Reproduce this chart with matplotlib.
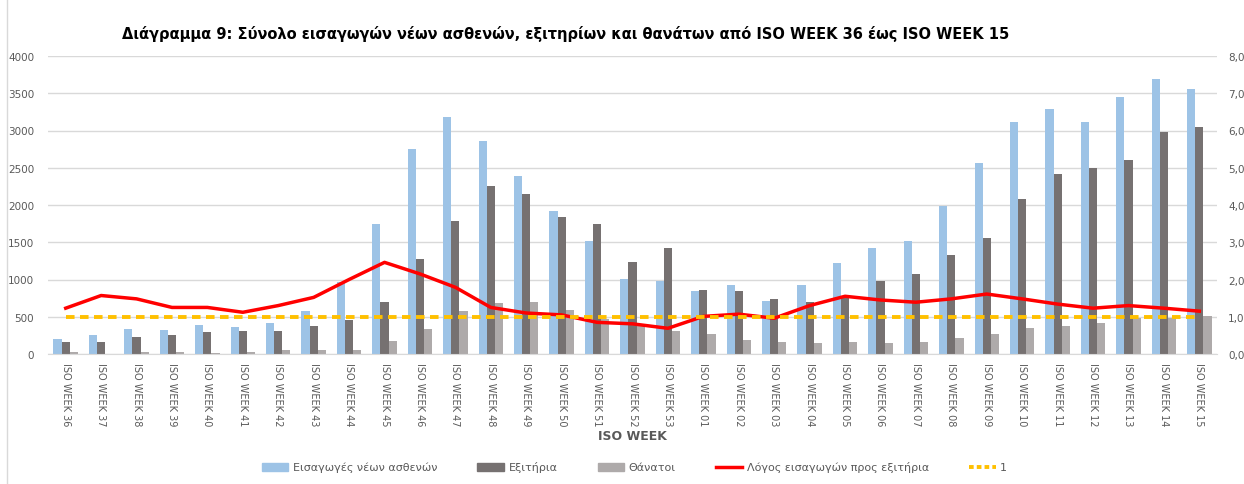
import numpy as np
import matplotlib
matplotlib.use("Agg")
import matplotlib.pyplot as plt
from matplotlib.lines import Line2D

weeks = ["36", "37", "38", "39", "40", "41", "42", "43", "44", "45", "46", "47",
         "48", "49", "50", "51", "52", "53", "01", "02", "03", "04", "05", "06",
         "07", "08", "09", "10", "11", "12", "13", "14", "15"]
week_labels = ["ISO WEEK " + w for w in weeks]

admissions = [202, 255, 336, 322, 390, 363, 412, 582, 966, 1747, 2755, 3180,
              2858, 2392, 1926, 1514, 1008, 985, 847, 923, 712, 927, 1218, 1424,
              1514, 1993, 2566, 3117, 3288, 3117, 3449, 3691, 3556]
discharges = [157, 157, 224, 255, 300, 313, 309, 372, 457, 703, 1277, 1783,
              2257, 2141, 1841, 1742, 1241, 1420, 860, 847, 739, 703, 775, 985,
              1070, 1326, 1559, 2074, 2419, 2490, 2602, 2983, 3041]
deaths = [22, 5, 27, 27, 18, 27, 54, 54, 54, 179, 336, 578,
          681, 694, 591, 470, 403, 309, 273, 188, 161, 152, 166, 143,
          166, 215, 264, 345, 372, 417, 488, 488, 515]
ratio = [1.23, 1.57, 1.48, 1.25, 1.25, 1.12, 1.30, 1.52, 2.00, 2.46, 2.15, 1.79,
         1.25, 1.10, 1.05, 0.85, 0.81, 0.69, 1.01, 1.07, 0.96, 1.30, 1.55, 1.45,
         1.39, 1.48, 1.61, 1.48, 1.34, 1.23, 1.30, 1.23, 1.15]
reference = [1.0] * len(weeks)

c_adm = "#9DC3E6"
c_dis = "#767171"
c_dea = "#AEAAAA"
c_txt = "#595959"

fig = plt.figure(figsize=(12.44, 4.85), dpi=100)
ax = fig.add_axes([48 / 1244, 1 - 355 / 485, (1217 - 48) / 1244, (355 - 57) / 485])
ax2 = ax.twinx()

x = np.arange(len(weeks))
w = 0.23
ax.bar(x - w, admissions, w, color=c_adm, zorder=2)
ax.bar(x, discharges, w, color=c_dis, zorder=2)
ax.bar(x + w, deaths, w, color=c_dea, zorder=2)

ax2.plot(x, ratio, color="#FF0000", lw=2.5, zorder=3)
ax2.plot(x, reference, color="#FFC000", lw=2.8, ls=(0, (2.2, 1.4)), zorder=3)

ax.set_xlim(-0.5, len(weeks) - 0.5)
ax.set_ylim(0, 4000)
ax.set_yticks(range(0, 4001, 500))
ax2.set_ylim(0, 8)
ax2.set_yticks(range(0, 9))
ax2.set_yticklabels([f"{v:.2f}".replace(".", ",") for v in range(0, 9)])

ax.grid(axis="y", color="#D9D9D9", lw=1, zorder=0)
ax.set_axisbelow(True)
for a in (ax, ax2):
    for s in a.spines.values():
        s.set_visible(False)
    a.tick_params(length=0, labelsize=7.5, colors=c_txt)
ax.spines["bottom"].set_visible(True)
ax.spines["bottom"].set_color("#D9D9D9")
ax.tick_params(axis="y", pad=10)
ax2.tick_params(axis="y", pad=8)

ax.set_xticks(x)
ax.set_xticklabels(week_labels, rotation=270, fontsize=7, color=c_txt)
ax.tick_params(axis="x", pad=6)
ax.set_xlabel("ISO WEEK", fontsize=9, fontweight="bold", color=c_txt, labelpad=2)

fig.text(0.455, 0.93,
         "Διάγραμμα 9: Σύνολο εισαγωγών νέων ασθενών, εξιτηρίων και θανάτων από ISO WEEK 36 έως ISO WEEK 15",
         ha="center", va="center", fontsize=10.5, fontweight="bold")

handles = [
    plt.Rectangle((0, 0), 1, 1, color=c_adm),
    plt.Rectangle((0, 0), 1, 1, color=c_dis),
    plt.Rectangle((0, 0), 1, 1, color=c_dea),
    Line2D([], [], color="#FF0000", lw=2.5),
    Line2D([], [], color="#FFC000", lw=2.8, ls=(0, (1.2, 0.8))),
]
names = ["Εισαγωγές νέων ασθενών", "Εξιτήρια", "Θάνατοι",
         "Λόγος εισαγωγών προς εξιτήρια", "1"]
leg = fig.legend(handles, names, loc="center", bbox_to_anchor=(0.51, 1 - 468 / 485),
                 ncol=5, frameon=False, fontsize=8, handlelength=2.4,
                 columnspacing=3.6, handletextpad=0.4)
for t in leg.get_texts():
    t.set_color(c_txt)

fig.add_artist(Line2D([7 / 1244, 7 / 1244], [0, 1], color="#D9D9D9", lw=1))

fig.savefig("out.png", dpi=100)
